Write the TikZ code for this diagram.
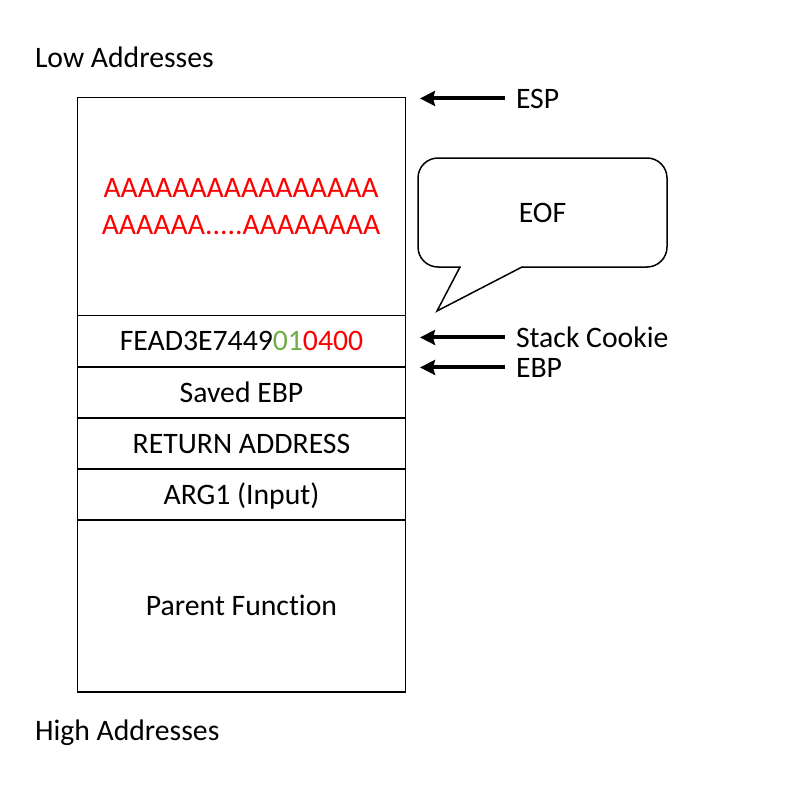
\documentclass[tikz,border=0pt]{standalone}
\usepackage{fontspec}
\setmainfont{Carlito}[Ligatures=NoCommon]
\usetikzlibrary{arrows.meta}
\definecolor{ared}{HTML}{FF0000}
\definecolor{agreen}{HTML}{70AD47}
\begin{document}
\begin{tikzpicture}[x=1pt,y=-1pt,
  every node/.style={font=\fontsize{29.7pt}{36pt}\selectfont, inner sep=0pt, outer sep=0pt, text height=19.1pt, text depth=0pt},
  cell/.style={draw, line width=1.5pt, minimum width=328pt, anchor=north},
  lbl/.style={anchor=base west},
  redtxt/.style={anchor=base, text=ared},
  ptr/.style={line width=4pt, -{Stealth[length=15pt,width=15pt,inset=2pt]}},
  bubble/.style={draw, line width=1.5pt, rounded corners=20pt, minimum width=249pt, minimum height=109pt}]
\useasboundingbox (0,0) rectangle (800,800);
\fill[white] (0,0) rectangle (800,800);
% stack
\node[cell, minimum height=218pt] (buf) at (241.5,97.5) {};
\node[cell, minimum height=51.5pt] (cookie) at (buf.south) {FEAD3E7449\textcolor{agreen}{01}\textcolor{ared}{0400}};
\node[cell, minimum height=51pt] (sebp) at (cookie.south) {Saved EBP};
\node[cell, minimum height=51pt] (ret) at (sebp.south) {RETURN ADDRESS};
\node[cell, minimum height=51pt] (arg) at (ret.south) {ARG1 (Input)};
\node[cell, minimum height=172pt] (parent) at (arg.south) {Parent Function};
\node[redtxt] (a1) at (241,197) {AAAAAAAAAAAAAAAA};
\node[redtxt] (a2) at (241,234) {AAAAAA.....AAAAAAAA};
% labels
\node[lbl] (low) at (35,67) {Low Addresses};
\node[lbl] (high) at (35,740) {High Addresses};
\node[lbl] (esp) at (516,108) {ESP};
\node[lbl] (sc) at (516,347) {Stack Cookie};
\node[lbl] (ebp) at (516,377) {EBP};
% pointers
\coordinate (tipx) at (420,0);
\draw[ptr] ([xshift=-11pt]esp.west) -- (esp.west -| tipx);
\draw[ptr] ([xshift=-11pt]sc.west) -- (sc.west -| tipx);
\draw[ptr] ([xshift=-11pt]ebp.west) -- (ebp.west -| tipx);
% bubble
\node[bubble] (eof) at (542.5,212.5) {EOF};
\coordinate (t1) at ([xshift=-82.5pt]eof.south);
\coordinate (t2) at (437,311);
\coordinate (t3) at ([xshift=-20.5pt]eof.south);
\fill[white] ([xshift=1pt,yshift=2pt]t1) -- ([xshift=1pt]t1) -- (t2) -- ([xshift=-1pt]t3) -- ([xshift=-1pt,yshift=2pt]t3) -- cycle;
\draw[line width=1.5pt, line join=miter] (t1) -- (t2) -- (t3);
\end{tikzpicture}
\end{document}
